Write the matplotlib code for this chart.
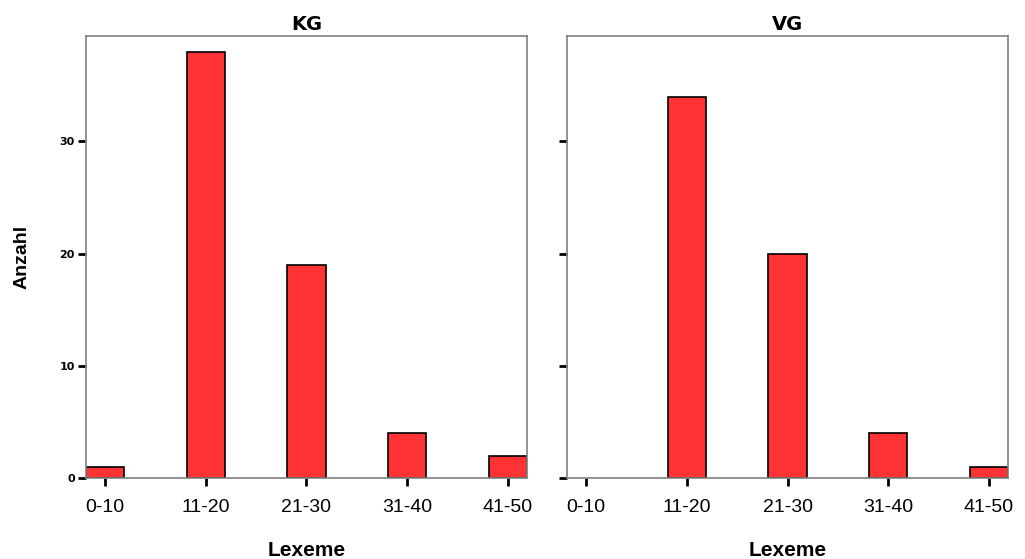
import matplotlib
matplotlib.use("Agg")
import matplotlib.pyplot as plt
import numpy as np

categories = ["0-10", "11-20", "21-30", "31-40", "41-50"]
kg_counts = [1, 38, 19, 4, 2]
vg_counts = [0, 34, 20, 4, 1]
y_ticks = [0, 10, 20, 30]

panels = [("KG", kg_counts), ("VG", vg_counts)]

fig = plt.figure(figsize=(10.25, 5.59), dpi=100)
fig.patch.set_facecolor("white")

bar_width = 0.38
x = np.arange(len(categories))
lefts = [86 / 1025, 567 / 1025]

for i, (title, counts) in enumerate(panels):
    ax = fig.add_axes([lefts[i], 1 - 478 / 559, 441 / 1025, 442 / 559])
    # empty classes get no outline
    edge_widths = [1.2 if c > 0 else 0 for c in counts]
    ax.bar(x, counts, width=bar_width, color="#ff3333", edgecolor="black", linewidth=edge_widths)
    ax.set_xlim(-bar_width / 2, len(categories) - 1 + bar_width / 2)
    ax.set_ylim(0, 39.4)
    for s in ax.spines.values():
        s.set_color("#808080")
        s.set_linewidth(1.2)
    ax.set_xticks(x)
    ax.set_xticklabels(categories, fontsize=14, family="Liberation Sans")
    ax.set_yticks(y_ticks)
    if i == 0:
        ax.set_yticklabels([str(t) for t in y_ticks], fontsize=8, fontweight="bold")
        ax.set_ylabel("Anzahl", fontsize=14, fontweight="bold", family="Liberation Sans")
        ax.yaxis.set_label_coords(-0.125, 0.5)
    else:
        ax.set_yticklabels([])
    ax.tick_params(axis="x", direction="out", length=6, width=2, color="black", pad=9)
    ax.tick_params(axis="y", direction="out", length=6, width=2, color="black", pad=2)
    ax.set_title(title, fontsize=14, fontweight="bold", pad=4)
    ax.set_xlabel("Lexeme", fontsize=15, fontweight="bold", family="Liberation Sans", labelpad=18)

fig.savefig("out.png", dpi=100, facecolor="white")
